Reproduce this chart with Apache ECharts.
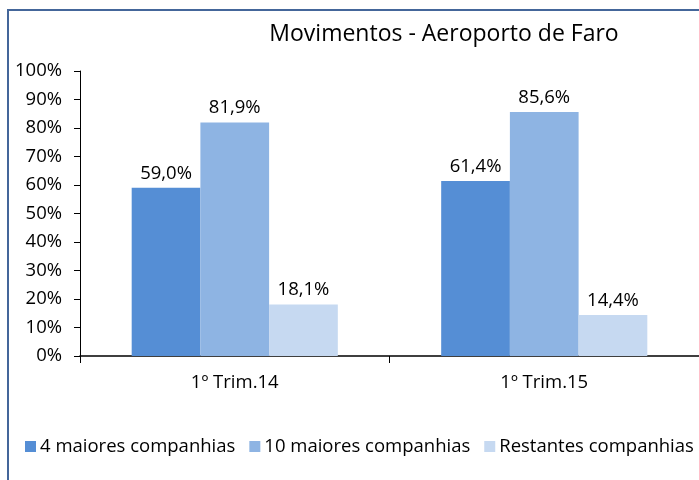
<!DOCTYPE html>
<html>
<head>
<meta charset="utf-8">
<script src="https://cdn.jsdelivr.net/npm/echarts@6/dist/echarts.min.js"></script>
<style>
  html, body { margin: 0; padding: 0; background: #fff; }
  #chart { width: 699px; height: 480px; }
</style>
</head>
<body>
<div id="chart"></div>
<script>
// dados
const categories = ['1º Trim.14', '1º Trim.15']
const seriesNames = ['4 maiores companhias', '10 maiores companhias', 'Restantes companhias']
const top4 = [59.0, 61.4]
const top10 = [81.9, 85.6]
const restantes = [18.1, 14.4]
const yTicks = [0, 10, 20, 30, 40, 50, 60, 70, 80, 90, 100]

const colors = ['#558ED5', '#8EB4E3', '#C6D9F1']
const font = 'Open Sans'
const fs = 18.5

const myChart = echarts.init(document.getElementById('chart'))

function bar (name, data, color) {
  return {
    name: name,
    type: 'bar',
    data: data,
    barGap: '0%',
    barCategoryGap: '33.4%',
    itemStyle: { color: color },
    label: {
      show: true,
      position: 'top',
      distance: 5,
      color: '#000',
      fontFamily: font,
      fontSize: fs,
      formatter: (p) => p.value.toFixed(1).replace('.', ',') + '%'
    }
  }
}

const option = {
  animation: false,
  title: {
    text: 'Movimentos - Aeroporto de Faro',
    left: 439,
    textAlign: 'center',
    top: 18,
    textStyle: { fontFamily: font, fontWeight: 'normal', fontSize: 23, color: '#000' }
  },
  legend: {
    data: seriesNames,
    left: 20,
    top: 432,
    width: 720,
    itemWidth: 11,
    itemHeight: 11,
    itemGap: 14,
    icon: 'rect',
    textStyle: { fontFamily: font, fontSize: fs, color: '#000', padding: [0, 0, 0, -1] }
  },
  grid: { left: 80, width: 622, top: 71, bottom: 124 },
  xAxis: {
    type: 'category',
    data: categories,
    axisLine: { lineStyle: { color: '#000', width: 1.5 } },
    axisTick: { show: true, length: 7, lineStyle: { color: '#000' } },
    axisLabel: { color: '#000', fontFamily: font, fontSize: fs, margin: 17 }
  },
  yAxis: {
    type: 'value',
    min: 0,
    max: 100,
    interval: 10,
    axisLine: { show: true, lineStyle: { color: '#000' } },
    axisTick: { show: true, length: 6, lineStyle: { color: '#000' } },
    splitLine: { show: false },
    axisLabel: {
      color: '#000',
      fontFamily: font,
      fontSize: fs,
      margin: 18,
      formatter: (v) => yTicks.includes(v) ? v + '%' : ''
    }
  },
  graphic: [{
    type: 'rect',
    shape: { x: 8, y: 10, width: 720, height: 500 },
    style: { fill: null, stroke: '#44669A', lineWidth: 2 },
    silent: true
  }],
  series: [
    bar(seriesNames[0], top4, colors[0]),
    bar(seriesNames[1], top10, colors[1]),
    bar(seriesNames[2], restantes, colors[2])
  ]
}
myChart.setOption(option)
</script>
</body>
</html>
